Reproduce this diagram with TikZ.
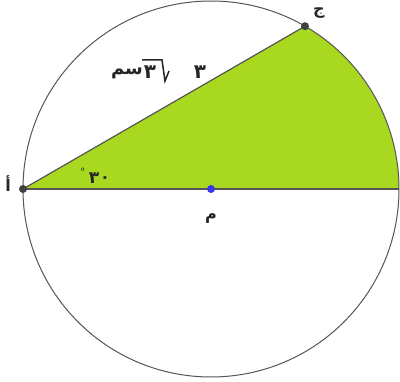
\documentclass[tikz,border=0pt]{standalone}
\usepackage{fontspec}
\newfontfamily\arabicfont[Script=Arabic]{DejaVu Sans}
\TeXXeTstate=1
\definecolor{lime}{RGB}{168,216,32}
\definecolor{edge}{RGB}{85,85,85}
\definecolor{dotblue}{RGB}{55,55,235}
\begin{document}
\begin{tikzpicture}[x=1pt,y=-1pt,
  lbl/.style={font=\arabicfont\bfseries\fontsize{16}{16}\selectfont, inner sep=0pt, text=black!85},
  dot/.style={circle, inner sep=0pt, minimum size=8pt}]
\useasboundingbox (0,0) rectangle (400,382);
\coordinate (M) at (211,189);
\coordinate (A) at (23,189);
\coordinate (C) at (305,26.2);
\coordinate (B) at (399,189);
\fill[lime] (A) -- (C) arc[start angle=-60, end angle=0, radius=188] -- cycle;
\draw[edge, line width=1pt] (M) circle[radius=188];
\draw[edge, line width=1.2pt] (A) -- (C);
\draw[edge, line width=1.2pt] (A) -- (B);
\node[dot, fill=black!75] (a) at (A) {};
\node[dot, fill=black!75] (c) at (C) {};
\node[dot, fill=dotblue] (m) at (M) {};
% vertex labels
\node[lbl] (la) at (8,184) {\beginR أ\endR};
\node[lbl] (lc) at (319,13) {\beginR ج\endR};
\node[lbl] (lm) at (211,219) {\beginR م\endR};
% angle label
\node[lbl, font=\arabicfont\fontsize{10}{10}\selectfont] (deg) at (83,172) {°};
\node[lbl, font=\arabicfont\bfseries\fontsize{17}{17}\selectfont] (d3) at (94,178) {٣};
\node[lbl, font=\arabicfont\bfseries\fontsize{16}{16}\selectfont] (d0) at (105,180) {٠};
% length label
\node[lbl, font=\arabicfont\bfseries\fontsize{18}{18}\selectfont] (cm) at (127,73) {\beginR سم\endR};
\node[lbl, font=\arabicfont\bfseries\fontsize{20}{20}\selectfont] (r3) at (150,72) {٣};
\node[lbl, font=\arabicfont\bfseries\fontsize{20}{20}\selectfont] (k3) at (200,72) {٣};
\draw[black!85, line width=1.5pt, line join=miter] (142,60) -- (162,60) -- (165,81) -- (169,71);
\end{tikzpicture}
\end{document}
